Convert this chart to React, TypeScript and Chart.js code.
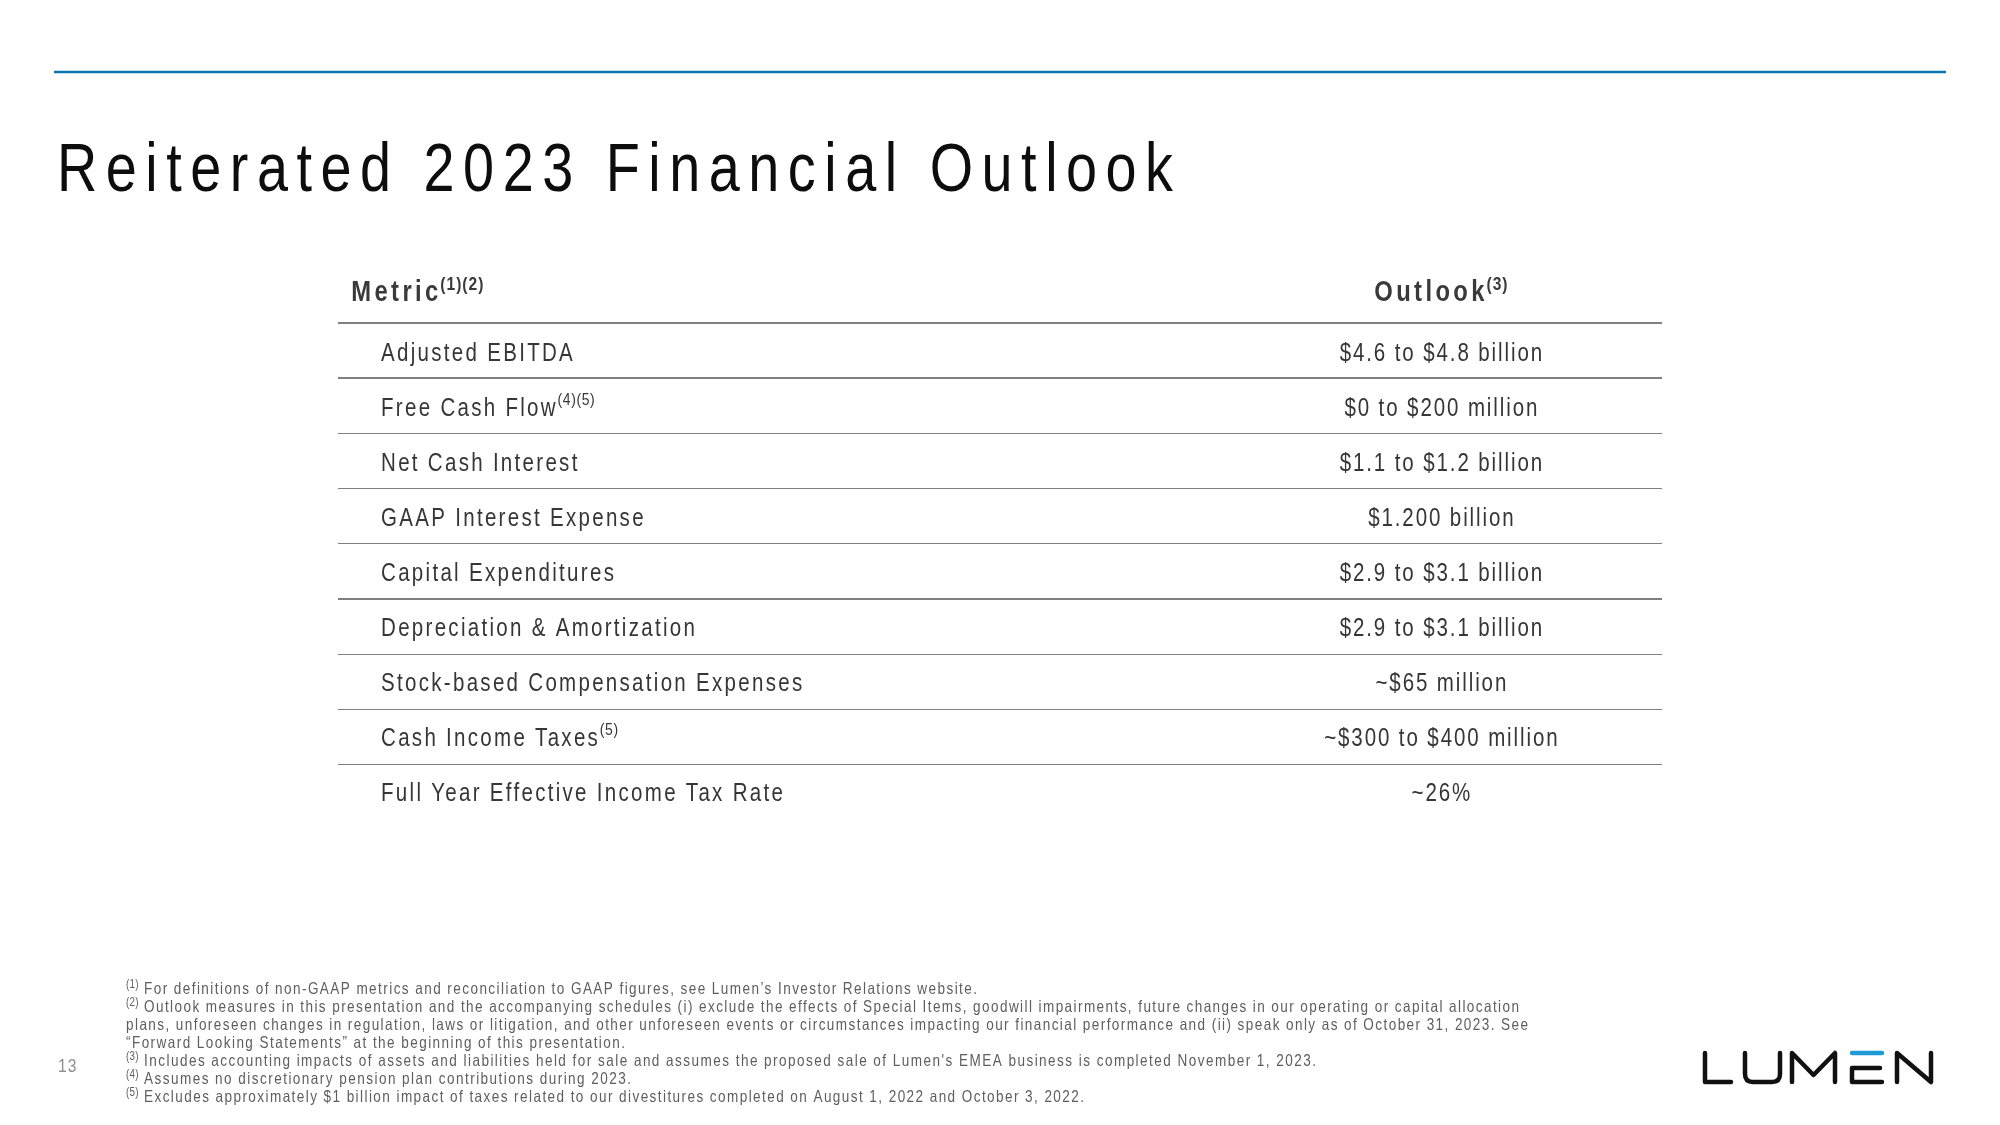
import React, { useEffect, useRef } from "react";
import { Chart, registerables } from "chart.js";

Chart.register(...registerables);

const pageTitle = "Reiterated 2023 Financial Outlook";
const headerMetric = "Metric";
const headerMetricNote = "(1)(2)";
const headerOutlook = "Outlook";
const headerOutlookNote = "(3)";

const metrics = [
  "Adjusted EBITDA",
  "Free Cash Flow",
  "Net Cash Interest",
  "GAAP Interest Expense",
  "Capital Expenditures",
  "Depreciation & Amortization",
  "Stock-based Compensation Expenses",
  "Cash Income Taxes",
  "Full Year Effective Income Tax Rate",
];
const metricNotes = ["", "(4)(5)", "", "", "", "", "", "(5)", ""];
const outlooks = [
  "$4.6 to $4.8 billion",
  "$0 to $200 million",
  "$1.1 to $1.2 billion",
  "$1.200 billion",
  "$2.9 to $3.1 billion",
  "$2.9 to $3.1 billion",
  "~$65 million",
  "~$300 to $400 million",
  "~26%",
];
// rows whose top rule is drawn heavier
const heavyRuleRows = [0, 1, 5];

const footnoteMarks = ["(1)", "(2)", "", "", "(3)", "(4)", "(5)"];
const footnoteTexts = [
  "For definitions of non-GAAP metrics and reconciliation to GAAP figures, see Lumen’s Investor Relations website.",
  "Outlook measures in this presentation and the accompanying schedules (i) exclude the effects of Special Items, goodwill impairments, future changes in our operating or capital allocation",
  "plans, unforeseen changes in regulation, laws or litigation, and other unforeseen events or circumstances impacting our financial performance and (ii) speak only as of October 31, 2023. See",
  "“Forward Looking Statements” at the beginning of this presentation.",
  "Includes accounting impacts of assets and liabilities held for sale and assumes the proposed sale of Lumen's EMEA business is completed November 1, 2023.",
  "Assumes no discretionary pension plan contributions during 2023.",
  "Excludes approximately $1 billion impact of taxes related to our divestitures completed on August 1, 2022 and October 3, 2022.",
];
const footnoteRightEdges = [977, 1519, 1528, 625, 1316, 631, 1084];
const pageNumber = "13";

let narrowOK: boolean | null = null;
function detectNarrow(ctx: CanvasRenderingContext2D) {
  if (narrowOK !== null) return narrowOK;
  ctx.save();
  ctx.font = '100px "Liberation Sans Narrow", monospace';
  const a = ctx.measureText("abcdefghijklmnop").width;
  ctx.font = "100px monospace";
  const b = ctx.measureText("abcdefghijklmnop").width;
  ctx.restore();
  narrowOK = Math.abs(a - b) > 1;
  return narrowOK;
}

type TOpts = {
  size: number;
  bold?: boolean;
  color: string;
  ls?: number;
  align?: "left" | "center" | "right";
  fitW?: number;
  measureOnly?: boolean;
};

function drawT(ctx: CanvasRenderingContext2D, text: string, x: number, y: number, o: TOpts) {
  const narrow = detectNarrow(ctx);
  const sx = narrow ? 1 : 0.82;
  const fam = narrow ? '"Liberation Sans Narrow", "Liberation Sans", Arial, sans-serif' : '"Liberation Sans", Arial, sans-serif';
  ctx.save();
  ctx.font = `${o.bold ? "bold " : ""}${o.size}px ${fam}`;
  (ctx as any).letterSpacing = "0px";
  const natural = ctx.measureText(text).width * sx;
  const n = Array.from(text).length;
  let ls = o.ls ?? 0;
  if (o.fitW !== undefined && n > 1) ls = (o.fitW - natural) / (n - 1);
  const total = natural + ls * (n - 1);
  if (o.measureOnly) {
    ctx.restore();
    return total;
  }
  let left = x;
  if (o.align === "center") left = x - total / 2;
  if (o.align === "right") left = x - total;
  ctx.translate(left, y);
  ctx.scale(sx, 1);
  (ctx as any).letterSpacing = `${ls / sx}px`;
  ctx.fillStyle = o.color;
  ctx.textAlign = "left";
  ctx.textBaseline = "alphabetic";
  ctx.fillText(text, 0, 0);
  ctx.restore();
  return total;
}

function drawLogo(ctx: CanvasRenderingContext2D) {
  const top = 1053;
  const bot = 1082;
  ctx.save();
  ctx.lineWidth = 4.5;
  ctx.lineCap = "round";
  ctx.lineJoin = "round";
  ctx.strokeStyle = "#111111";
  // L
  ctx.beginPath();
  ctx.moveTo(1705, top);
  ctx.lineTo(1705, bot);
  ctx.lineTo(1731, bot);
  ctx.stroke();
  // U
  ctx.beginPath();
  ctx.moveTo(1745, top);
  ctx.lineTo(1745, bot - 8);
  ctx.quadraticCurveTo(1745, bot, 1753, bot);
  ctx.lineTo(1772, bot);
  ctx.quadraticCurveTo(1780, bot, 1780, bot - 8);
  ctx.lineTo(1780, top);
  ctx.stroke();
  // M
  ctx.beginPath();
  ctx.moveTo(1792, bot);
  ctx.lineTo(1792, top);
  ctx.lineTo(1813.5, bot - 7);
  ctx.lineTo(1835, top);
  ctx.lineTo(1835, bot);
  ctx.stroke();
  // E
  ctx.beginPath();
  ctx.moveTo(1880, top + 15);
  ctx.lineTo(1852, top + 15);
  ctx.lineTo(1852, bot);
  ctx.lineTo(1882, bot);
  ctx.stroke();
  ctx.strokeStyle = "#1f9ad6";
  ctx.beginPath();
  ctx.moveTo(1852, top);
  ctx.lineTo(1882, top);
  ctx.stroke();
  // N
  ctx.strokeStyle = "#111111";
  ctx.beginPath();
  ctx.moveTo(1897, bot);
  ctx.lineTo(1897, top);
  ctx.lineTo(1931, bot);
  ctx.lineTo(1931, top);
  ctx.stroke();
  ctx.restore();
}

const slidePlugin = {
  id: "slidePlugin",
  afterDraw(chart: any) {
    const ctx: CanvasRenderingContext2D = chart.ctx;
    const ys = chart.scales.y;
    const xs = chart.scales.x;
    const area = chart.chartArea;

    // top blue rule
    ctx.save();
    ctx.strokeStyle = "#0a74b0";
    ctx.lineWidth = 2.5;
    ctx.beginPath();
    ctx.moveTo(54, 72);
    ctx.lineTo(1946, 72);
    ctx.stroke();
    ctx.restore();

    // title
    drawT(ctx, pageTitle, 57, 191, { size: 68, color: "#0d0d0d", fitW: 1116 });

    // table
    const pitch = ys.getPixelForTick(1) - ys.getPixelForTick(0);
    const metricX = xs.getPixelForValue(3.25);
    const outlookX = xs.getPixelForValue(83.3);
    const headerX = xs.getPixelForValue(1.0);
    const headerBase = ys.getPixelForTick(0) - pitch / 2 - 22;
    const hCol = "#3a3a3a";

    // headers
    const hw = drawT(ctx, headerMetric, headerX, headerBase, { size: 29, bold: true, color: hCol, ls: 3.4 });
    drawT(ctx, headerMetricNote, headerX + hw + 2, headerBase - 11, { size: 19, bold: true, color: hCol, ls: 1.0 });
    const ow = drawT(ctx, headerOutlook, 0, 0, { size: 29, bold: true, color: hCol, ls: 3.4, measureOnly: true });
    const onw = drawT(ctx, headerOutlookNote, 0, 0, { size: 19, bold: true, color: hCol, ls: 1.0, measureOnly: true });
    const oLeft = outlookX - (ow + 2 + onw) / 2;
    drawT(ctx, headerOutlook, oLeft, headerBase, { size: 29, bold: true, color: hCol, ls: 3.4 });
    drawT(ctx, headerOutlookNote, oLeft + ow + 2, headerBase - 11, { size: 19, bold: true, color: hCol, ls: 1.0 });

    // rules
    metrics.forEach((_, i) => {
      const yTop = Math.round(ys.getPixelForTick(i) - pitch / 2);
      const heavy = heavyRuleRows.includes(i);
      ctx.save();
      ctx.strokeStyle = "#7f7f7f";
      ctx.lineWidth = heavy ? 2 : 1.2;
      ctx.beginPath();
      ctx.moveTo(area.left, yTop + (heavy ? 0 : 0.5));
      ctx.lineTo(area.right, yTop + (heavy ? 0 : 0.5));
      ctx.stroke();
      ctx.restore();
    });

    // rows
    metrics.forEach((m, i) => {
      const base = ys.getPixelForTick(i) + 10;
      const w = drawT(ctx, m, metricX, base, { size: 25, color: "#363636", ls: 2.3 });
      if (metricNotes[i]) {
        drawT(ctx, metricNotes[i], metricX + w + 2, base - 11, { size: 17, color: "#363636", ls: 0.6 });
      }
      drawT(ctx, outlooks[i], outlookX, base, { size: 25, color: "#363636", ls: 1.9, align: "center" });
    });

    // footnotes
    const fnColor = "#5e5e5e";
    footnoteTexts.forEach((t, i) => {
      const base = 994 + i * 18;
      let startX = 126;
      if (footnoteMarks[i]) {
        drawT(ctx, footnoteMarks[i], 126, base - 6, { size: 12, color: fnColor, ls: 0.2 });
        startX = 144;
      }
      drawT(ctx, t, startX, base, { size: 16.5, color: fnColor, fitW: footnoteRightEdges[i] - startX });
    });

    // page number
    drawT(ctx, pageNumber, 58, 1072, { size: 19, color: "#8f8f8f", ls: 1 });

    drawLogo(ctx);
  },
};

export default function App() {
  const ref = useRef<HTMLCanvasElement | null>(null);
  useEffect(() => {
    document.body.style.margin = "0";
    document.body.style.background = "#ffffff";
    const canvas = ref.current!;
    const chart = new Chart(canvas, {
      type: "bar",
      data: { labels: metrics, datasets: [] },
      options: {
        responsive: false,
        animation: false,
        indexAxis: "y",
        layout: { padding: { left: 338, right: 338, top: 323, bottom: 306 } },
        plugins: { legend: { display: false }, tooltip: { enabled: false } },
        scales: {
          y: { type: "category", labels: metrics, offset: true, display: false },
          x: { type: "linear", min: 0, max: 100, display: false },
        },
        events: [],
      },
      plugins: [slidePlugin],
    } as any);
    return () => chart.destroy();
  }, []);
  return (
    <div style={{ width: 2000, height: 1125, background: "#fff" }}>
      <canvas ref={ref} width={2000} height={1125} style={{ display: "block", width: 2000, height: 1125 }} />
    </div>
  );
}
